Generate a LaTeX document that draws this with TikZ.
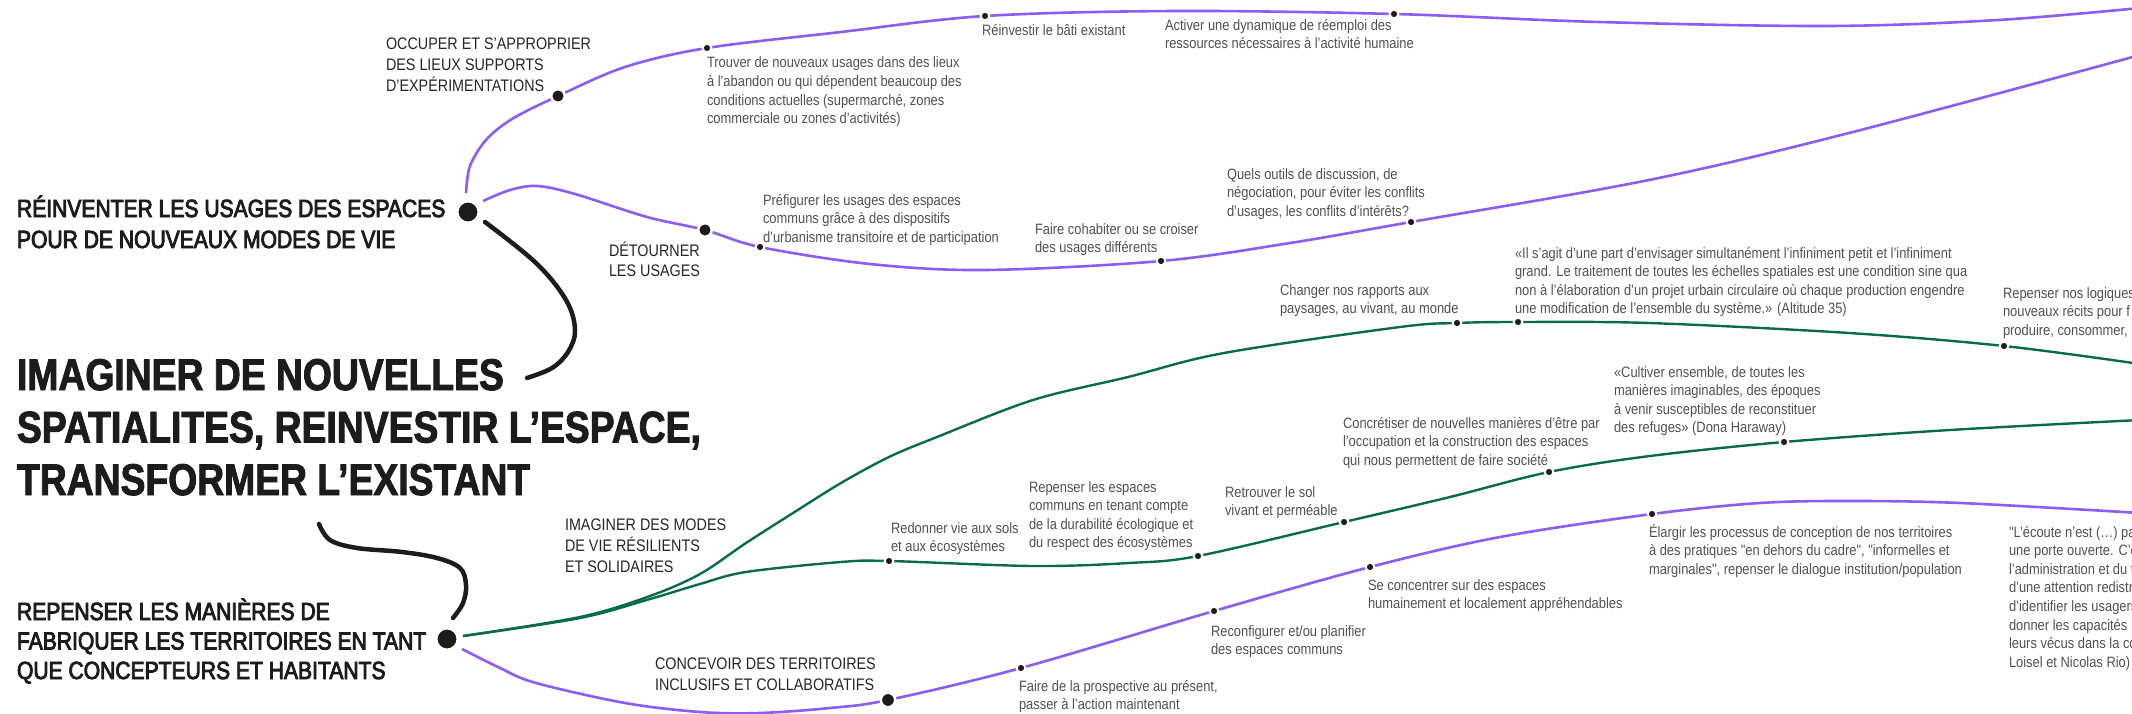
\documentclass[tikz,border=0pt]{standalone}
\usepackage{fontspec}
\setmainfont{Liberation Sans}
\newfontfamily\bodyf{Liberation Sans}[FakeStretch=0.86]
\newfontfamily\medf{Liberation Sans}[FakeStretch=0.85,FakeBold=3.5]
\newfontfamily\titlef{Liberation Sans Bold}[FakeStretch=0.84,FakeBold=2]
\newcommand\tstr{\rule{0pt}{1em}}
\definecolor{vio}{RGB}{139,92,246}
\definecolor{grn}{RGB}{8,108,72}
\definecolor{ink}{RGB}{28,28,28}
\definecolor{bodyg}{RGB}{80,80,80}
\definecolor{headg}{RGB}{38,38,38}
\tikzset{
  body/.style={inner sep=0pt, outer sep=0pt, anchor=north west, align=left, text=bodyg, font=\bodyf\fontsize{15}{18.6}\selectfont, yshift=15pt},
  sub/.style={inner sep=0pt, outer sep=0pt, anchor=north west, align=left, text=headg, font=\bodyf\fontsize{16.7}{21}\selectfont, yshift=16.7pt},
  head/.style={inner sep=0pt, outer sep=0pt, anchor=north west, align=left, text=ink, font=\medf\fontsize{24.8}{31}\selectfont, yshift=24.8pt},
  ttl/.style={inner sep=0pt, outer sep=0pt, anchor=north west, align=left, text=ink, font=\titlef\fontsize{44.4}{52.5}\selectfont, yshift=44.4pt},
  sdot/.style={circle, fill=ink, draw=white, line width=2pt, inner sep=0pt, outer sep=0pt, minimum size=8.6pt},
  mdot/.style={circle, fill=ink, draw=white, line width=2.5pt, inner sep=0pt, outer sep=0pt, minimum size=13.5pt},
  bdot/.style={circle, fill=ink, draw=white, line width=2pt, inner sep=0pt, outer sep=0pt, minimum size=21pt},
  vline/.style={draw=vio, line width=2.6pt},
  gline/.style={draw=grn, line width=2.4pt},
  kline/.style={draw=ink, line width=4.5pt, line cap=round},
}
\begin{document}
\begin{tikzpicture}[x=1pt,y=-1pt]
\useasboundingbox (0,0) rectangle (2132,714);
\clip (0,0) rectangle (2132,714);
% dot positions
\coordinate (dR) at (468,212);
\coordinate (dP) at (447,639);
\coordinate (dO) at (558,96);
\coordinate (dD) at (705,230);
\coordinate (dC) at (888,700);
\coordinate (t1) at (707,48);
\coordinate (t2) at (985,16);
\coordinate (t3) at (1394,14);
\coordinate (t4) at (760,247);
\coordinate (t5) at (1161,261);
\coordinate (t6) at (1411,222);
\coordinate (g1) at (1457,323);
\coordinate (g2) at (1518,322);
\coordinate (g3) at (2004,346);
\coordinate (g4) at (889,561);
\coordinate (g5) at (1198,556);
\coordinate (g6) at (1344,522);
\coordinate (g7) at (1549,472);
\coordinate (g8) at (1784,442);
\coordinate (v1) at (1021,668);
\coordinate (v2) at (1214,611);
\coordinate (v3) at (1370,567);
\coordinate (v4) at (1652,514);
% free ends
\coordinate (sR1) at (466,193);
\coordinate (sR2) at (483,201);
\coordinate (sK1) at (485,222);
\coordinate (eK1) at (527,378);
\coordinate (sK2) at (319,524);
\coordinate (eK2) at (453,618);
\coordinate (sP1) at (463,636);
\coordinate (sP2) at (462,649);
\coordinate (eA) at (2140,8);
\coordinate (eB) at (2140,55);
\coordinate (eC) at (2140,364);
\coordinate (eDd) at (2140,420);
\coordinate (eE) at (2140,513);
% curves
\draw[vline] plot[smooth, tension=0.55] coordinates {(sR1) (470,166) (486,140) (512,119) (dO) (625,67) (t1) (841,32) (t2) (1176,11) (t3) (1599,22) (1829,26) (1998,20) (eA)};
\draw[vline] plot[smooth, tension=0.55] coordinates {(sR2) (510,190) (537,186) (575,194) (647,217) (dD) (t4) (870,264) (985,270) (t5) (1290,243) (t6) (1649,180) (1849,133) (eB)};
\draw[kline] plot[smooth, tension=0.6] coordinates {(sK1) (536,263) (566,300) (575,330) (568,352) (552,368) (eK1)};
\draw[kline] plot[smooth, tension=0.6] coordinates {(sK2) (330,540) (357,548) (402,552) (437,558) (460,568) (466,585) (463,603) (eK2)};
\draw[gline] plot[smooth, tension=0.55] coordinates {(sP1) (580,617) (650,596) (700,574) (746,543) (793,513) (841,483) (889,457) (937,437) (1033,400) (1128,377) (1224,353) (1400,327) (g1) (g2) (1649,323) (1849,333) (g3) (eC)};
\draw[gline] plot[smooth, tension=0.55] coordinates {(sP1) (580,618) (650,599) (700,584) (746,572) (841,562) (g4) (1033,566) (1129,563) (g5) (g6) (1450,497) (g7) (1650,456) (g8) (1950,430) (eDd)};
\draw[vline] plot[smooth, tension=0.55] coordinates {(sP2) (500,668) (536,683) (625,703) (700,712) (760,713) (830,708) (dC) (v1) (v2) (v3) (1500,537) (v4) (1760,503) (1849,501) (1960,503) (eE)};
% dots
\node[bdot] (nR) at (dR) {};
\node[bdot] (nP) at (dP) {};
\node[mdot] (nO) at (dO) {};
\node[mdot] (nD) at (dD) {};
\node[mdot, minimum size=14.5pt] (nC) at (dC) {};
\foreach \p in {t1,t2,t3,t4,t5,t6,g1,g2,g3,g4,g5,g6,g7,g8,v1,v2,v3,v4}{
  \node[sdot] (n\p) at (\p) {};
}
% title and headings
\node[ttl] (title) at (17,390) {\tstr IMAGINER DE NOUVELLES\\SPATIALITES, REINVESTIR L’ESPACE,\\TRANSFORMER L’EXISTANT};
\node[head] (hR) at (17,217) {\tstr RÉINVENTER LES USAGES DES ESPACES\\POUR DE NOUVEAUX MODES DE VIE};
\node[head, font=\medf\fontsize{24.8}{29.5}\selectfont] (hP) at (17,620) {\tstr REPENSER LES MANIÈRES DE\\FABRIQUER LES TERRITOIRES EN TANT\\QUE CONCEPTEURS ET HABITANTS};
\node[sub] (sO) at (386,50) {\tstr OCCUPER ET S’APPROPRIER\\DES LIEUX SUPPORTS\\D’EXPÉRIMENTATIONS};
\node[sub, font=\bodyf\fontsize{16.7}{20.5}\selectfont] (sD) at (609,256) {\tstr DÉTOURNER\\LES USAGES};
\node[sub] (sI) at (565,530) {\tstr IMAGINER DES MODES\\DE VIE RÉSILIENTS\\ET SOLIDAIRES};
\node[sub] (sC) at (655,669) {\tstr CONCEVOIR DES TERRITOIRES\\INCLUSIFS ET COLLABORATIFS};
% body texts
\node[body] (b1) at (707,68) {\tstr Trouver de nouveaux usages dans des lieux\\à l’abandon ou qui dépendent beaucoup des\\conditions actuelles (supermarché, zones\\commerciale ou zones d’activités)};
\node[body] (b2) at (982,36) {\tstr Réinvestir le bâti existant};
\node[body, font=\bodyf\fontsize{15}{18}\selectfont] (b3) at (1165,31) {\tstr Activer une dynamique de réemploi des\\ressources nécessaires à l’activité humaine};
\node[body] (b4) at (763,205) {\tstr Préfigurer les usages des espaces\\communs grâce à des dispositifs\\d’urbanisme transitoire et de participation};
\node[body] (b5) at (1035,234) {\tstr Faire cohabiter ou se croiser\\des usages différents};
\node[body] (b6) at (1227,179) {\tstr Quels outils de discussion, de\\négociation, pour éviter les conflits\\d’usages, les conflits d’intérêts?};
\node[body] (b7) at (1515,258) {\tstr «Il s’agit d’une part d’envisager simultanément l’infiniment petit et l’infiniment\\grand. Le traitement de toutes les échelles spatiales est une condition sine qua\\non à l’élaboration d’un projet urbain circulaire où chaque production engendre\\une modification de l’ensemble du système.» (Altitude 35)};
\node[body] (b8) at (1280,295) {\tstr Changer nos rapports aux\\paysages, au vivant, au monde};
\node[body] (b9) at (2003,298) {\tstr Repenser nos logiques\\nouveaux récits pour f\\produire, consommer,};
\node[body] (b10) at (1614,377) {\tstr «Cultiver ensemble, de toutes les\\manières imaginables, des époques\\à venir susceptibles de reconstituer\\des refuges» (Dona Haraway)};
\node[body] (b11) at (1343,428) {\tstr Concrétiser de nouvelles manières d’être par\\l’occupation et la construction des espaces\\qui nous permettent de faire société};
\node[body] (b12) at (891,533) {\tstr Redonner vie aux sols\\et aux écosystèmes};
\node[body] (b13) at (1029,492) {\tstr Repenser les espaces\\communs en tenant compte\\de la durabilité écologique et\\du respect des écosystèmes};
\node[body] (b14) at (1225,497) {\tstr Retrouver le sol\\vivant et perméable};
\node[body] (b15) at (1649,537) {\tstr Élargir les processus de conception de nos territoires\\à des pratiques "en dehors du cadre", "informelles et\\marginales", repenser le dialogue institution/population};
\node[body] (b16) at (2009,537) {\tstr "L’écoute n’est (…) pas\\une porte ouverte. C’e\\l’administration et du t\\d’une attention redistr\\d’identifier les usagers\\donner les capacités\\leurs vécus dans la co\\Loisel et Nicolas Rio)};
\node[body] (b17) at (1368,590) {\tstr Se concentrer sur des espaces\\humainement et localement appréhendables};
\node[body] (b18) at (1211,636) {\tstr Reconfigurer et/ou planifier\\des espaces communs};
\node[body] (b19) at (1019,691) {\tstr Faire de la prospective au présent,\\passer à l’action maintenant};
\end{tikzpicture}
\end{document}
